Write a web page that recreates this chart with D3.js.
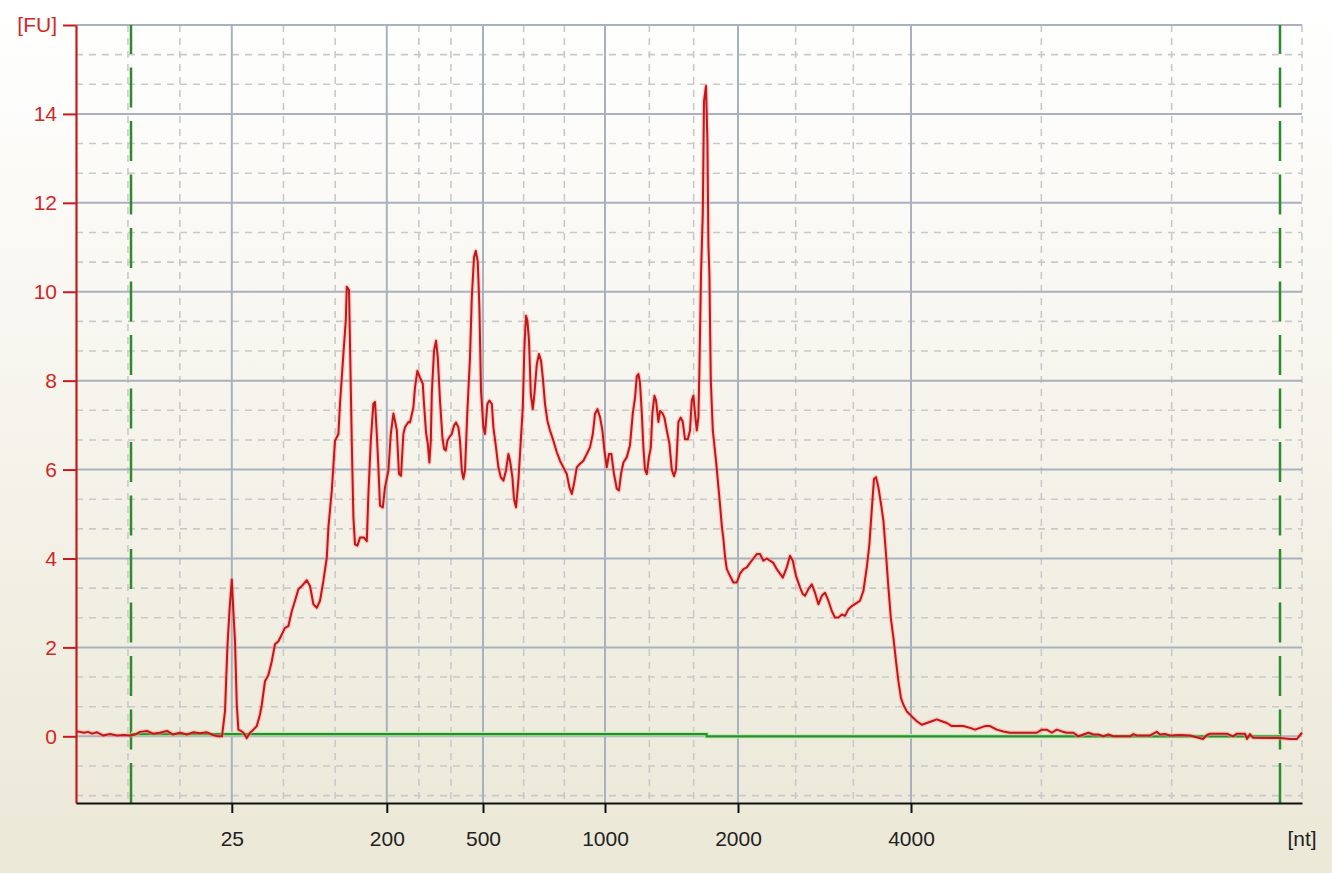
<!DOCTYPE html>
<html lang="en">
<head>
  <meta charset="utf-8">
  <title>Electropherogram</title>
  <style>
    body {
      margin: 0;
      background: #ece9d8;
    }
    #chart text {
      font-family: "Liberation Sans", Arial, sans-serif;
      font-size: 21px;
    }
  </style>
</head>
<body>
  <div id="chart"></div>

  <script src="https://d3js.org/d3.v7.min.js"></script>
  <script>
    // Migration time window (s) and fluorescence window (FU)
    var timeRange = [20, 81.3];
    var fuRange = [-1.5, 16];

    // Ladder peaks: migration time (s) and size label (nt)
    var ladderTimes = [27.79, 35.54, 40.35, 46.45, 53.1, 61.75];
    var ladderLabels = ["25", "200", "500", "1000", "2000", "4000"];

    var fuTicks = [0, 2, 4, 6, 8, 10, 12, 14, 16];

    // Lower / upper alignment markers (s)
    var markerTimes = [22.75, 80.2];

    // Baseline, [time, FU]
    var baseline = [[22.75, 0.05], [51.53, 0.05], [51.53, 0], [80.2, 0]];

    // Sample trace, [time, FU]
    var trace = [
      [20.0, 0.11], [20.2, 0.1], [20.4, 0.08], [20.6, 0.1], [20.8, 0.06], [21.05, 0.09],
      [21.35, 0.02], [21.7, 0.05], [22.05, 0.02], [22.4, 0.03], [22.7, 0.02], [22.95, 0.04],
      [23.2, 0.1], [23.55, 0.12], [23.85, 0.06], [24.2, 0.08], [24.55, 0.12], [24.85, 0.04],
      [25.2, 0.08], [25.55, 0.04], [25.85, 0.09], [26.2, 0.07], [26.55, 0.09], [26.85, 0.03],
      [27.1, 0.0], [27.3, 0.0],
      [27.45, 0.56], [27.57, 2.0], [27.67, 2.8], [27.79, 3.53], [27.87, 2.8], [27.95, 2.14],
      [28.04, 0.7], [28.12, 0.15], [28.29, 0.11], [28.37, 0.08], [28.54, -0.04], [28.7, 0.08],
      [28.87, 0.15], [29.04, 0.23], [29.2, 0.49], [29.29, 0.71], [29.45, 1.24], [29.62, 1.38],
      [29.79, 1.69], [29.95, 2.07], [30.12, 2.14], [30.29, 2.29], [30.45, 2.44], [30.62, 2.48],
      [30.79, 2.82], [30.95, 3.05], [31.12, 3.31], [31.29, 3.38], [31.54, 3.51], [31.7, 3.38],
      [31.87, 2.97], [32.04, 2.89], [32.2, 3.05], [32.37, 3.5], [32.54, 4.02], [32.62, 4.7],
      [32.79, 5.53], [32.95, 6.65], [33.12, 6.8], [33.2, 7.48], [33.37, 8.6], [33.49, 9.36],
      [33.54, 10.11], [33.65, 10.04], [33.7, 8.83], [33.79, 6.58], [33.87, 4.92], [33.95, 4.32],
      [34.07, 4.29], [34.2, 4.47], [34.4, 4.47], [34.54, 4.39], [34.62, 5.45], [34.74, 6.65],
      [34.87, 7.48], [34.95, 7.52], [35.04, 6.8], [35.12, 6.05], [35.2, 5.19], [35.34, 5.15],
      [35.45, 5.6], [35.62, 5.98], [35.74, 6.8], [35.87, 7.26], [36.04, 6.89], [36.15, 5.9],
      [36.25, 5.86], [36.37, 6.8], [36.45, 6.95], [36.62, 7.07], [36.7, 7.06], [36.87, 7.4],
      [36.95, 7.85], [37.07, 8.22], [37.2, 8.07], [37.34, 7.93], [37.4, 7.48], [37.5, 6.84],
      [37.59, 6.58], [37.67, 6.16], [37.74, 6.65], [37.79, 7.7], [37.9, 8.67], [38.0, 8.9],
      [38.09, 8.52], [38.2, 7.55], [38.32, 6.73], [38.4, 6.47], [38.49, 6.43], [38.57, 6.65],
      [38.67, 6.73], [38.79, 6.8], [38.9, 6.99], [39.0, 7.06], [39.12, 6.95], [39.2, 6.65],
      [39.29, 5.98], [39.37, 5.79], [39.45, 5.98], [39.57, 7.33], [39.7, 8.52], [39.79, 9.87],
      [39.9, 10.77], [39.99, 10.92], [40.09, 10.66], [40.17, 9.65], [40.25, 7.78], [40.37, 6.95],
      [40.45, 6.8], [40.57, 7.48], [40.67, 7.55], [40.79, 7.48], [40.87, 6.95], [41.0, 6.5],
      [41.12, 6.05], [41.24, 5.83], [41.37, 5.75], [41.5, 5.98], [41.62, 6.35], [41.7, 6.2],
      [41.82, 5.83], [41.9, 5.34], [42.0, 5.15], [42.12, 5.75], [42.24, 6.65], [42.34, 7.4],
      [42.42, 8.75], [42.5, 9.46], [42.57, 9.35], [42.65, 8.9], [42.74, 7.7], [42.84, 7.36],
      [42.92, 7.7], [43.04, 8.37], [43.15, 8.6], [43.25, 8.45], [43.34, 8.07], [43.45, 7.48],
      [43.57, 7.1], [43.7, 6.88], [43.87, 6.65], [44.04, 6.39], [44.2, 6.2], [44.37, 6.05],
      [44.54, 5.9], [44.67, 5.6], [44.79, 5.45], [44.9, 5.68], [45.04, 6.05], [45.2, 6.13],
      [45.37, 6.2], [45.54, 6.35], [45.7, 6.5], [45.84, 6.8], [45.95, 7.25], [46.07, 7.36],
      [46.2, 7.18], [46.32, 6.88], [46.42, 6.43], [46.54, 6.05], [46.65, 6.35], [46.77, 6.35],
      [46.9, 5.9], [47.04, 5.57], [47.15, 5.53], [47.25, 5.9], [47.37, 6.16], [47.54, 6.28],
      [47.7, 6.55], [47.84, 7.27], [47.95, 7.61], [48.04, 8.1], [48.12, 8.15], [48.2, 7.95],
      [48.29, 7.27], [48.37, 6.49], [48.45, 6.0], [48.54, 5.9], [48.65, 6.29], [48.74, 6.49],
      [48.82, 7.27], [48.92, 7.66], [49.0, 7.56], [49.12, 7.07], [49.2, 7.32], [49.32, 7.27],
      [49.42, 7.17], [49.54, 6.88], [49.67, 6.59], [49.79, 6.0], [49.9, 5.85], [50.0, 6.0],
      [50.12, 7.07], [50.24, 7.17], [50.34, 7.07], [50.45, 6.68], [50.59, 6.68], [50.7, 6.88],
      [50.79, 7.56], [50.87, 7.66], [50.95, 7.27], [51.04, 6.88], [51.12, 7.17], [51.17, 8.24],
      [51.25, 10.39], [51.34, 11.76], [51.4, 14.29], [51.5, 14.63], [51.57, 13.41], [51.62, 11.07],
      [51.67, 10.39], [51.74, 8.0], [51.84, 6.88], [52.0, 6.2], [52.12, 5.61], [52.2, 5.22],
      [52.29, 4.73], [52.37, 4.44], [52.45, 4.05], [52.54, 3.76], [52.7, 3.61], [52.87, 3.46],
      [53.04, 3.46], [53.2, 3.66], [53.37, 3.76], [53.54, 3.8], [53.7, 3.9], [53.87, 4.0],
      [54.04, 4.1], [54.2, 4.1], [54.37, 3.95], [54.54, 4.0], [54.7, 3.95], [54.87, 3.9],
      [55.04, 3.76], [55.2, 3.66], [55.34, 3.57], [55.54, 3.8], [55.7, 4.06], [55.84, 3.95],
      [56.0, 3.61], [56.2, 3.35], [56.34, 3.2], [56.45, 3.16], [56.62, 3.31], [56.79, 3.42],
      [56.95, 3.23], [57.12, 2.97], [57.29, 3.16], [57.45, 3.23], [57.62, 3.05], [57.79, 2.82],
      [57.95, 2.67], [58.12, 2.67], [58.29, 2.74], [58.45, 2.71], [58.62, 2.86], [58.79, 2.93],
      [59.04, 3.0], [59.2, 3.05], [59.37, 3.27], [59.54, 3.8], [59.67, 4.32], [59.79, 5.11],
      [59.9, 5.79], [60.0, 5.83], [60.12, 5.6], [60.25, 5.23], [60.37, 4.85], [60.5, 4.1],
      [60.62, 3.35], [60.74, 2.67], [60.87, 2.22], [61.0, 1.69], [61.12, 1.24], [61.25, 0.86],
      [61.37, 0.71], [61.54, 0.56], [61.7, 0.49], [61.87, 0.41], [62.04, 0.34], [62.29, 0.26],
      [62.54, 0.3], [62.79, 0.34], [63.04, 0.38], [63.29, 0.34], [63.54, 0.3], [63.79, 0.23],
      [64.04, 0.23], [64.37, 0.23], [64.7, 0.19], [64.95, 0.15], [65.2, 0.19], [65.45, 0.23],
      [65.7, 0.23], [66.04, 0.15], [66.37, 0.11], [66.7, 0.08], [67.04, 0.08], [67.37, 0.08],
      [67.7, 0.08], [68.04, 0.08], [68.29, 0.15], [68.54, 0.15], [68.79, 0.08], [69.04, 0.15],
      [69.29, 0.11], [69.54, 0.08], [69.87, 0.08], [70.12, 0.0], [70.37, 0.04], [70.62, 0.08],
      [70.87, 0.04], [71.12, 0.04], [71.37, 0.0], [71.62, 0.04], [71.87, 0.0], [72.2, 0.0],
      [72.7, 0.0], [72.87, 0.05], [73.04, 0.02], [73.37, 0.02], [73.7, 0.02], [74.04, 0.1],
      [74.2, 0.04], [74.45, 0.05], [74.7, 0.02], [75.2, 0.03], [75.7, 0.02], [76.35, -0.06],
      [76.55, 0.03], [76.7, 0.06], [77.2, 0.06], [77.55, 0.06], [77.85, 0.0], [78.05, 0.06],
      [78.45, 0.06], [78.55, -0.06], [78.7, 0.05], [78.85, -0.03], [80.2, -0.04], [80.7, -0.06],
      [81.05, -0.06], [81.15, 0.0], [81.3, 0.08]
    ];

    // Chart dimensions
    var width = 1332;
    var height = 873;
    var margin = { top: 25, right: 30, bottom: 70, left: 76 };

    var svg = d3.select("#chart")
      .append("svg")
      .attr("width", width)
      .attr("height", height)
      .style("display", "block");

    // Background gradient (white -> XP beige)
    var grad = svg.append("defs")
      .append("linearGradient")
      .attr("id", "bg")
      .attr("x1", 0).attr("y1", 0)
      .attr("x2", 0).attr("y2", 1);
    grad.append("stop").attr("offset", "0%").attr("stop-color", "#ffffff");
    grad.append("stop").attr("offset", "100%").attr("stop-color", "#ebe8d7");

    svg.append("rect")
      .attr("width", width)
      .attr("height", height)
      .attr("fill", "url(#bg)");

    // Scales
    var x = d3.scaleLinear()
      .domain(timeRange)
      .range([margin.left, width - margin.right]);

    var y = d3.scaleLinear()
      .domain(fuRange)
      .range([height - margin.bottom, margin.top]);

    var x0 = x.range()[0], x1 = x.range()[1];
    var y0 = y.range()[0], y1 = y.range()[1];

    // Grid: each major interval split in thirds by dashed lines
    var xMajor = [timeRange[0]].concat(ladderTimes, [timeRange[1]]);
    var xMinor = [];
    for (var i = 0; i < xMajor.length - 1; i++) {
      var step = (xMajor[i + 1] - xMajor[i]) / 3;
      xMinor.push(xMajor[i] + step, xMajor[i] + 2 * step);
    }
    xMinor.push(timeRange[1]);

    var yMinor = [];
    for (var k = -2; k < 24; k++) {
      if (k % 3 !== 0) yMinor.push(k * 2 / 3);
    }

    var grid = svg.append("g");

    grid.selectAll(".vminor")
      .data(xMinor)
      .enter().append("line")
      .attr("x1", function(d) { return x(d); })
      .attr("x2", function(d) { return x(d); })
      .attr("y1", y1).attr("y2", y0)
      .attr("stroke", "#c9c9c9")
      .attr("stroke-width", 1.6)
      .attr("stroke-dasharray", "7,6");

    grid.selectAll(".hminor")
      .data(yMinor)
      .enter().append("line")
      .attr("x1", x0).attr("x2", x1)
      .attr("y1", function(d) { return y(d); })
      .attr("y2", function(d) { return y(d); })
      .attr("stroke", "#c9c9c9")
      .attr("stroke-width", 1.6)
      .attr("stroke-dasharray", "7,6");

    grid.selectAll(".vmajor")
      .data(ladderTimes)
      .enter().append("line")
      .attr("x1", function(d) { return x(d); })
      .attr("x2", function(d) { return x(d); })
      .attr("y1", y1).attr("y2", y0)
      .attr("stroke", "#aab1be")
      .attr("stroke-width", 2);

    grid.selectAll(".hmajor")
      .data(fuTicks)
      .enter().append("line")
      .attr("x1", x0).attr("x2", x1)
      .attr("y1", function(d) { return y(d); })
      .attr("y2", function(d) { return y(d); })
      .attr("stroke", "#aab1be")
      .attr("stroke-width", 2);

    // Alignment markers
    svg.selectAll(".marker")
      .data(markerTimes)
      .enter().append("line")
      .attr("x1", function(d) { return x(d); })
      .attr("x2", function(d) { return x(d); })
      .attr("y1", y0).attr("y2", y1)
      .attr("stroke", "#2d8a2d")
      .attr("stroke-width", 2.5)
      .attr("stroke-dasharray", "40,13.5");

    var line = d3.line()
      .x(function(d) { return x(d[0]); })
      .y(function(d) { return y(d[1]); });

    // Baseline
    svg.append("path")
      .datum(baseline)
      .attr("fill", "none")
      .attr("stroke", "#b8f0b0")
      .attr("stroke-width", 4.5)
      .attr("d", line);
    svg.append("path")
      .datum(baseline)
      .attr("fill", "none")
      .attr("stroke", "#2f8a2f")
      .attr("stroke-width", 2.2)
      .attr("d", line);

    // Trace with a soft halo like the original rendering
    svg.append("path")
      .datum(trace)
      .attr("fill", "none")
      .attr("stroke", "#ff9a9a")
      .attr("stroke-opacity", 0.45)
      .attr("stroke-width", 4.5)
      .attr("stroke-linejoin", "round")
      .attr("d", line);
    svg.append("path")
      .datum(trace)
      .attr("fill", "none")
      .attr("stroke", "#c01818")
      .attr("stroke-width", 2)
      .attr("stroke-linejoin", "round")
      .attr("d", line);

    // Y axis (red)
    var yAxis = svg.append("g")
      .attr("transform", "translate(" + x0 + ",0)")
      .call(d3.axisLeft(y)
        .tickValues(fuTicks)
        .tickSize(13)
        .tickSizeOuter(0)
        .tickPadding(6)
        .tickFormat(function(d) { return d === 16 ? "[FU]" : d; }));
    yAxis.select(".domain").attr("stroke", "#c41c1c").attr("stroke-width", 2.2);
    yAxis.selectAll(".tick line").attr("stroke", "#c41c1c").attr("stroke-width", 2);
    yAxis.selectAll("text").attr("fill", "#d02828").style("font-size", "21px");

    // X axis (black)
    var xAxis = svg.append("g")
      .attr("transform", "translate(0," + y0 + ")")
      .call(d3.axisBottom(x)
        .tickValues(ladderTimes)
        .tickSize(10)
        .tickSizeOuter(0)
        .tickPadding(18)
        .tickFormat(function(d, i) { return ladderLabels[i]; }));
    xAxis.select(".domain").attr("stroke", "#111").attr("stroke-width", 2.2);
    xAxis.selectAll(".tick line").attr("stroke", "#111").attr("stroke-width", 2);
    xAxis.selectAll("text").attr("fill", "#222").style("font-size", "21px");

    // Unit label at the right end of the x axis
    svg.append("text")
      .attr("x", x1)
      .attr("y", y0 + 28)
      .attr("dy", "0.71em")
      .attr("text-anchor", "middle")
      .attr("fill", "#222")
      .text("[nt]");
  </script>
</body>
</html>
